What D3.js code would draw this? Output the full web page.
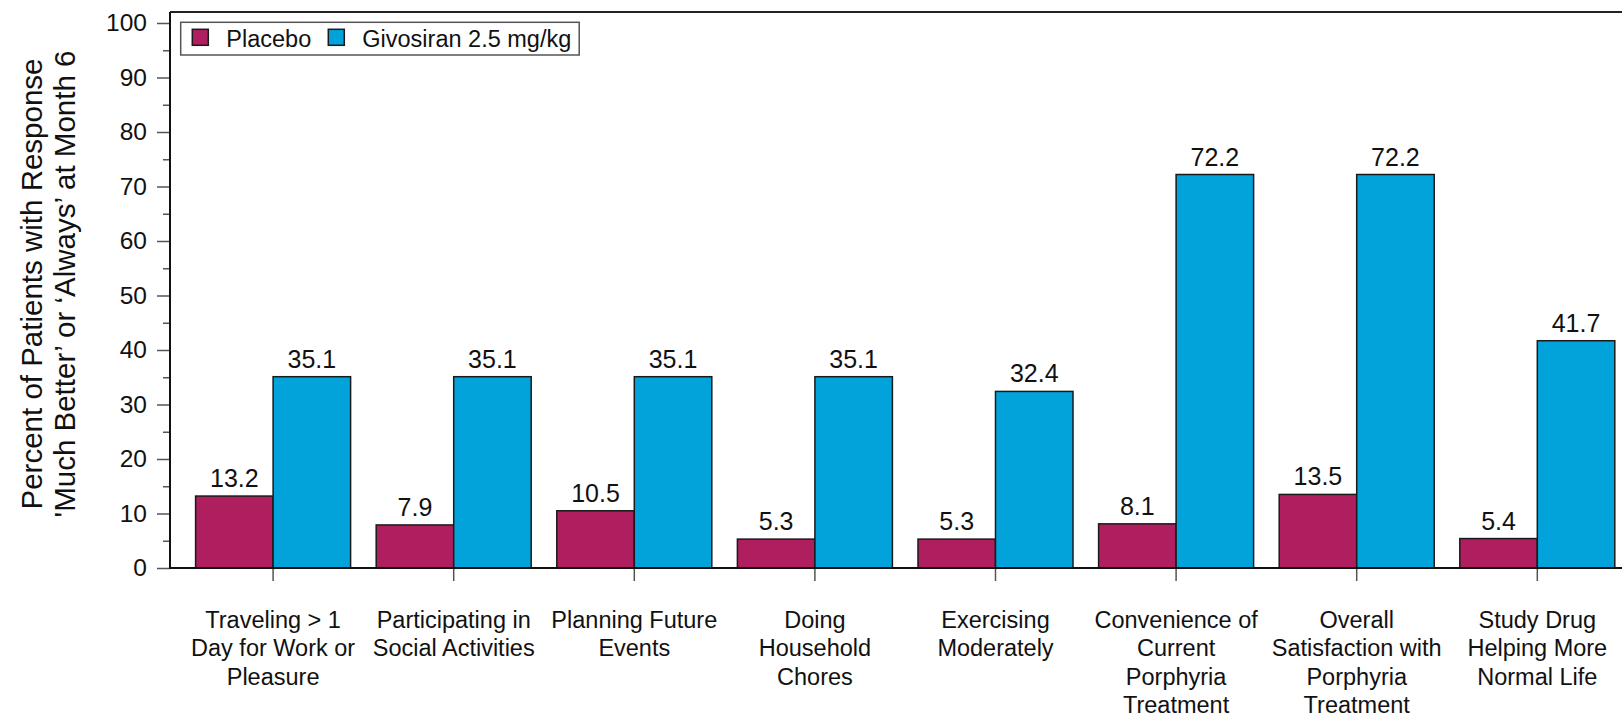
<!DOCTYPE html>
<html>
<head>
<meta charset="utf-8">
<script src="https://cdn.jsdelivr.net/npm/d3@7"></script>
<style>
  html, body { margin: 0; padding: 0; background: #fff; }
  svg { display: block; font-family: "Liberation Sans", Arial, sans-serif; }
</style>
</head>
<body>
<svg id="chart" width="1622" height="717"></svg>
<script>
// ---- data ----
const categories = [
  ["Traveling > 1", "Day for Work or", "Pleasure"],
  ["Participating in", "Social Activities"],
  ["Planning Future", "Events"],
  ["Doing", "Household", "Chores"],
  ["Exercising", "Moderately"],
  ["Convenience of", "Current", "Porphyria", "Treatment"],
  ["Overall", "Satisfaction with", "Porphyria", "Treatment"],
  ["Study Drug", "Helping More", "Normal Life"]
];
const seriesNames = ["Placebo", "Givosiran 2.5 mg/kg"];
const placebo = [13.2, 7.9, 10.5, 5.3, 5.3, 8.1, 13.5, 5.4];
const givosiran = [35.1, 35.1, 35.1, 35.1, 32.4, 72.2, 72.2, 41.7];
const yTicks = [0, 10, 20, 30, 40, 50, 60, 70, 80, 90, 100];
const yTickLabels = ["0", "10", "20", "30", "40", "50", "60", "70", "80", "90", "100"];
const yMinorTicks = [5, 15, 25, 35, 45, 55, 65, 75, 85, 95];
const yTitle = ["Percent of Patients with Response", "'Much Better\u2019 or \u2018Always\u2019 at Month 6"];

// ---- layout ----
const W = 1622, H = 717;
const left = 170, bottom = 568, top100 = 23;
const colors = ["#AF1F5F", "#02A3DB"];
const svg = d3.select("#chart");

const y = d3.scaleLinear().domain([0, 100]).range([bottom, top100]);
const catIdx = categories.map((d, i) => i);
const x0 = d3.scaleBand().domain(catIdx).range([left, 1640.4]).padding(0.1417);
const x1 = d3.scaleBand().domain([0, 1]).range([0, x0.bandwidth()]).padding(0);

const rows = catIdx.map(i => [placebo[i], givosiran[i]]);

// frame top line
svg.append("line")
  .attr("x1", left).attr("x2", W)
  .attr("y1", y(102)).attr("y2", y(102))
  .attr("stroke", "#222").attr("stroke-width", 2);

// bars
const g = svg.append("g");
const groups = g.selectAll("g.grp").data(rows).join("g")
  .attr("class", "grp")
  .attr("transform", (d, i) => `translate(${x0(i)},0)`);

groups.selectAll("rect").data(d => d.map((v, s) => ({ v, s }))).join("rect")
  .attr("x", d => x1(d.s))
  .attr("y", d => y(d.v))
  .attr("width", x1.bandwidth())
  .attr("height", d => y(0) - y(d.v))
  .attr("fill", d => colors[d.s])
  .attr("stroke", "#1a1a1a")
  .attr("stroke-width", 1.5);

groups.selectAll("text.val").data(d => d.map((v, s) => ({ v, s }))).join("text")
  .attr("class", "val")
  .attr("x", d => x1(d.s) + x1.bandwidth() / 2)
  .attr("y", d => y(d.v) - 9)
  .attr("text-anchor", "middle")
  .attr("font-size", 25)
  .attr("fill", "#111")
  .text(d => d.v.toFixed(1));

// y axis
const yAxis = svg.append("g").attr("transform", `translate(${left},0)`)
  .call(d3.axisLeft(y).tickValues(yTicks).tickSize(13).tickPadding(10)
    .tickFormat((d, i) => yTickLabels[i]));
yAxis.select(".domain").remove();
yAxis.selectAll(".tick line").attr("stroke", "#555").attr("stroke-width", 1.5);
yAxis.selectAll(".tick text").attr("font-size", 24.5).attr("fill", "#111")
  .attr("font-family", "Liberation Sans, Arial, sans-serif");

const yMinor = svg.append("g").attr("transform", `translate(${left},0)`)
  .call(d3.axisLeft(y).tickValues(yMinorTicks).tickSize(7).tickFormat(""));
yMinor.select(".domain").remove();
yMinor.selectAll(".tick line").attr("stroke", "#555").attr("stroke-width", 1.5);

svg.append("line")
  .attr("x1", left).attr("x2", left)
  .attr("y1", y(102)).attr("y2", bottom + 1)
  .attr("stroke", "#111").attr("stroke-width", 2);

// x axis
const xAxis = svg.append("g").attr("transform", `translate(0,${bottom})`)
  .call(d3.axisBottom(x0).tickSize(13).tickFormat(""));
xAxis.select(".domain").remove();
xAxis.selectAll(".tick line").attr("stroke", "#555").attr("stroke-width", 1.5);

svg.append("line")
  .attr("x1", left - 1).attr("x2", W)
  .attr("y1", bottom).attr("y2", bottom)
  .attr("stroke", "#111").attr("stroke-width", 2);

// category labels
const catText = svg.append("g").selectAll("text").data(categories).join("text")
  .attr("text-anchor", "middle")
  .attr("font-size", 23.5)
  .attr("fill", "#111")
  .attr("transform", (d, i) => `translate(${x0(i) + x0.bandwidth() / 2},628)`);
catText.selectAll("tspan").data(d => d).join("tspan")
  .attr("x", 0)
  .attr("y", (d, j) => j * 28.3)
  .text(d => d);

// y title
const yt = svg.append("text")
  .attr("transform", "translate(0,284) rotate(-90)")
  .attr("text-anchor", "middle")
  .attr("font-size", 29.5)
  .attr("fill", "#111");
yt.selectAll("tspan").data(yTitle).join("tspan")
  .attr("x", 0)
  .attr("y", (d, j) => 42 + j * 33)
  .text(d => d);

// legend
const lg = svg.append("g");
lg.append("rect")
  .attr("x", 180.7).attr("y", 22.3).attr("width", 398.5).attr("height", 32.7)
  .attr("fill", "#fff").attr("stroke", "#555").attr("stroke-width", 1.5);
const legX = [192.3, 328.3];
seriesNames.forEach((name, s) => {
  lg.append("rect")
    .attr("x", legX[s]).attr("y", 29.3).attr("width", 16).attr("height", 16)
    .attr("fill", colors[s]).attr("stroke", "#1a1a1a").attr("stroke-width", 1.5);
  lg.append("text")
    .attr("x", legX[s] + 34).attr("y", 46.5)
    .attr("font-size", 23.5).attr("fill", "#111")
    .text(name);
});
</script>
</body>
</html>
